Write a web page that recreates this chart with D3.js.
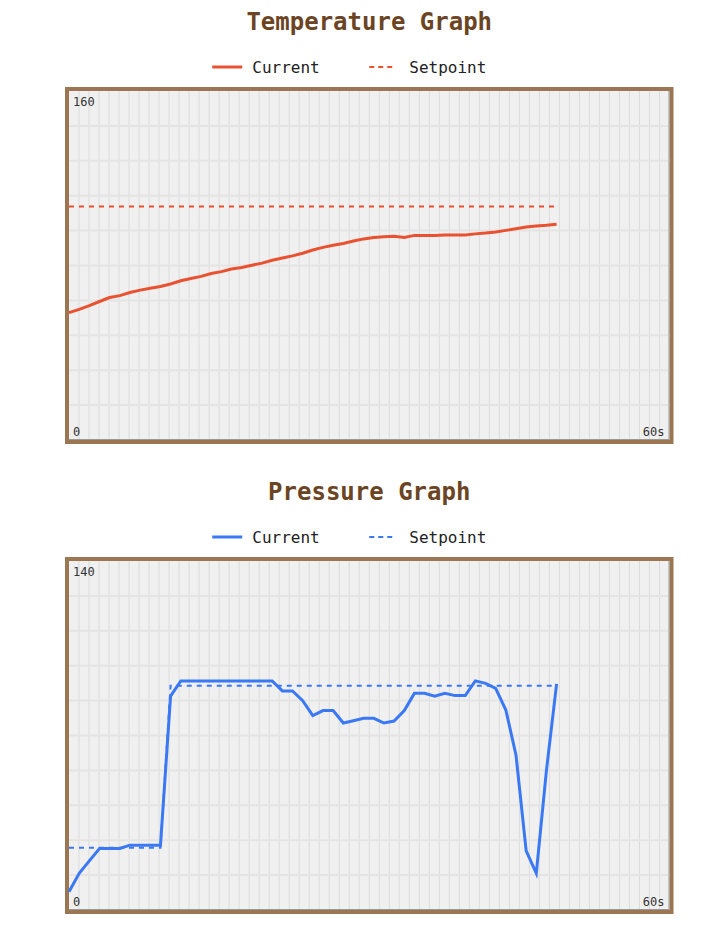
<!DOCTYPE html>
<html>
<head>
<meta charset="utf-8">
<script src="https://cdn.jsdelivr.net/npm/d3@7"></script>
<style>
  body { margin: 0; background: #fff; }
  svg { display: block; }
</style>
</head>
<body>
<svg id="chart" width="708" height="946"></svg>
<script>
const width = 708;
const height = 946;

// sample times (s), one sample roughly every second
const times = [0, 1.02, 2.03, 3.05, 4.06, 5.08, 6.09, 7.11, 8.12, 9.14,
    10.15, 11.17, 12.18, 13.2, 14.21, 15.23, 16.24, 17.26, 18.27, 19.29,
    20.3, 21.32, 22.33, 23.35, 24.36, 25.38, 26.39, 27.41, 28.42, 29.44,
    30.45, 31.47, 32.48, 33.5, 34.51, 35.53, 36.54, 37.56, 38.57, 39.59,
    40.6, 41.62, 42.63, 43.65, 44.66, 45.68, 46.69, 47.71, 48.72];

const tempCurrent = [58.4, 59.9, 61.6, 63.5, 65.3, 66.2, 67.6, 68.7, 69.6, 70.4,
    71.5, 73.0, 74.0, 75.0, 76.3, 77.2, 78.4, 79.1, 80.1, 81.1,
    82.4, 83.4, 84.4, 85.6, 87.1, 88.3, 89.3, 90.1, 91.2, 92.2,
    92.8, 93.2, 93.4, 92.8, 93.8, 93.7, 93.8, 94.0, 94.0, 94.0,
    94.5, 94.9, 95.4, 96.1, 96.8, 97.6, 98.1, 98.4, 98.9];

const tempSetpoint = [107, 107, 107, 107, 107, 107, 107, 107, 107, 107,
    107, 107, 107, 107, 107, 107, 107, 107, 107, 107,
    107, 107, 107, 107, 107, 107, 107, 107, 107, 107,
    107, 107, 107, 107, 107, 107, 107, 107, 107, 107,
    107, 107, 107, 107, 107, 107, 107, 107, 107];

const pressCurrent = [7.3, 14.7, 19.7, 24.7, 24.7, 24.7, 26.0, 26.0, 26.0, 26.0,
    85.8, 91.9, 91.9, 91.9, 91.9, 91.9, 91.9, 91.9, 91.9, 91.9,
    91.9, 87.9, 87.9, 84.0, 78.0, 80.0, 80.0, 75.0, 75.9, 76.9,
    76.9, 75.0, 75.8, 80.0, 86.9, 86.9, 85.8, 86.9, 86.0, 86.0,
    91.9, 90.9, 88.9, 80.2, 62.2, 23.7, 14.7, 56.2, 90.7];

const pressSetpoint = [25, 25, 25, 25, 25, 25, 25, 25, 25, 25,
    90, 90, 90, 90, 90, 90, 90, 90, 90, 90,
    90, 90, 90, 90, 90, 90, 90, 90, 90, 90,
    90, 90, 90, 90, 90, 90, 90, 90, 90, 90,
    90, 90, 90, 90, 90, 90, 90, 90, 90];

const legendLabels = ["Current", "Setpoint"];

const charts = [
    { title: "Temperature Graph", max: 160, color: "#ea5130",
      current: tempCurrent, setpoint: tempSetpoint, top: 0 },
    { title: "Pressure Graph", max: 140, color: "#3b78f4",
      current: pressCurrent, setpoint: pressSetpoint, top: 470 }
];

const timeSpan = 60;     // seconds shown across the plot
const sections = 10;     // horizontal grid sections

const svg = d3.select("#chart");
const mono = "'DejaVu Sans Mono', monospace";

// plot frame (inner area), relative to each chart block
const box = { x0: 69, x1: 669.5, y0: 91, y1: 440, border: 4 };
const cx = (box.x0 + box.x1) / 2;

charts.forEach(c => {
    const g = svg.append("g").attr("transform", `translate(0,${c.top})`);

    // title
    g.append("text")
        .attr("x", cx)
        .attr("y", 30)
        .attr("text-anchor", "middle")
        .attr("font-family", mono)
        .attr("font-weight", "bold")
        .attr("font-size", 24)
        .attr("fill", "#6b4423")
        .text(c.title);

    // legend
    const leg = g.append("g").attr("font-family", mono).attr("font-size", 16).attr("fill", "#222");
    leg.append("line")
        .attr("x1", cx - 157).attr("x2", cx - 127)
        .attr("y1", 67).attr("y2", 67)
        .attr("stroke", c.color).attr("stroke-width", 3);
    leg.append("text").attr("x", cx - 117).attr("y", 72.5).text(legendLabels[0]);
    leg.append("line")
        .attr("x1", cx).attr("x2", cx + 27)
        .attr("y1", 67).attr("y2", 67)
        .attr("stroke", c.color).attr("stroke-width", 2)
        .attr("stroke-dasharray", "5,4");
    leg.append("text").attr("x", cx + 40).attr("y", 72.5).text(legendLabels[1]);

    // frame
    const b = box.border;
    g.append("rect")
        .attr("x", box.x0 - b / 2).attr("y", box.y0 - b / 2)
        .attr("width", box.x1 - box.x0 + b).attr("height", box.y1 - box.y0 + b)
        .attr("fill", "#f0f0f0")
        .attr("stroke", "#9a7652").attr("stroke-width", b);

    const x = d3.scaleLinear().domain([0, timeSpan]).range([box.x0, box.x1]);
    const y = d3.scaleLinear().domain([0, c.max]).range([box.y1, box.y0]);

    const plot = g.append("g");

    // vertical grid, one line a second
    plot.selectAll("line.v")
        .data(d3.range(1, timeSpan))
        .enter().append("line")
        .attr("class", "v")
        .attr("x1", d => x(d)).attr("x2", d => x(d))
        .attr("y1", box.y0).attr("y2", box.y1)
        .attr("stroke", "#dcdcdc").attr("stroke-width", 1);

    // horizontal grid
    plot.selectAll("line.h")
        .data(d3.range(1, sections).map(i => i * c.max / sections))
        .enter().append("line")
        .attr("class", "h")
        .attr("x1", box.x0).attr("x2", box.x1)
        .attr("y1", d => y(d)).attr("y2", d => y(d))
        .attr("stroke", "#e4e4e4").attr("stroke-width", 2);

    // inner shadow edge on right and bottom
    plot.append("path")
        .attr("d", `M${box.x1 - 0.5},${box.y0}V${box.y1 - 0.5}H${box.x0}`)
        .attr("fill", "none")
        .attr("stroke", "#999").attr("stroke-width", 1);

    const line = d3.line()
        .x((d, i) => x(times[i]))
        .y(d => y(d));

    plot.append("path")
        .datum(c.setpoint)
        .attr("d", line)
        .attr("fill", "none")
        .attr("stroke", c.color).attr("stroke-width", 2)
        .attr("stroke-dasharray", "5,5");

    plot.append("path")
        .datum(c.current)
        .attr("d", line)
        .attr("fill", "none")
        .attr("stroke", c.color).attr("stroke-width", 3)
        .attr("stroke-linejoin", "miter");

    // corner labels
    const lab = g.append("g").attr("font-family", mono).attr("font-size", 12).attr("fill", "#333");
    lab.append("text").attr("x", box.x0 + 4).attr("y", box.y0 + 15).text(c.max);
    lab.append("text").attr("x", box.x0 + 4).attr("y", box.y1 - 4).text(0);
    lab.append("text").attr("x", box.x1 - 5).attr("y", box.y1 - 4)
        .attr("text-anchor", "end").text(timeSpan + "s");
});
</script>
</body>
</html>
